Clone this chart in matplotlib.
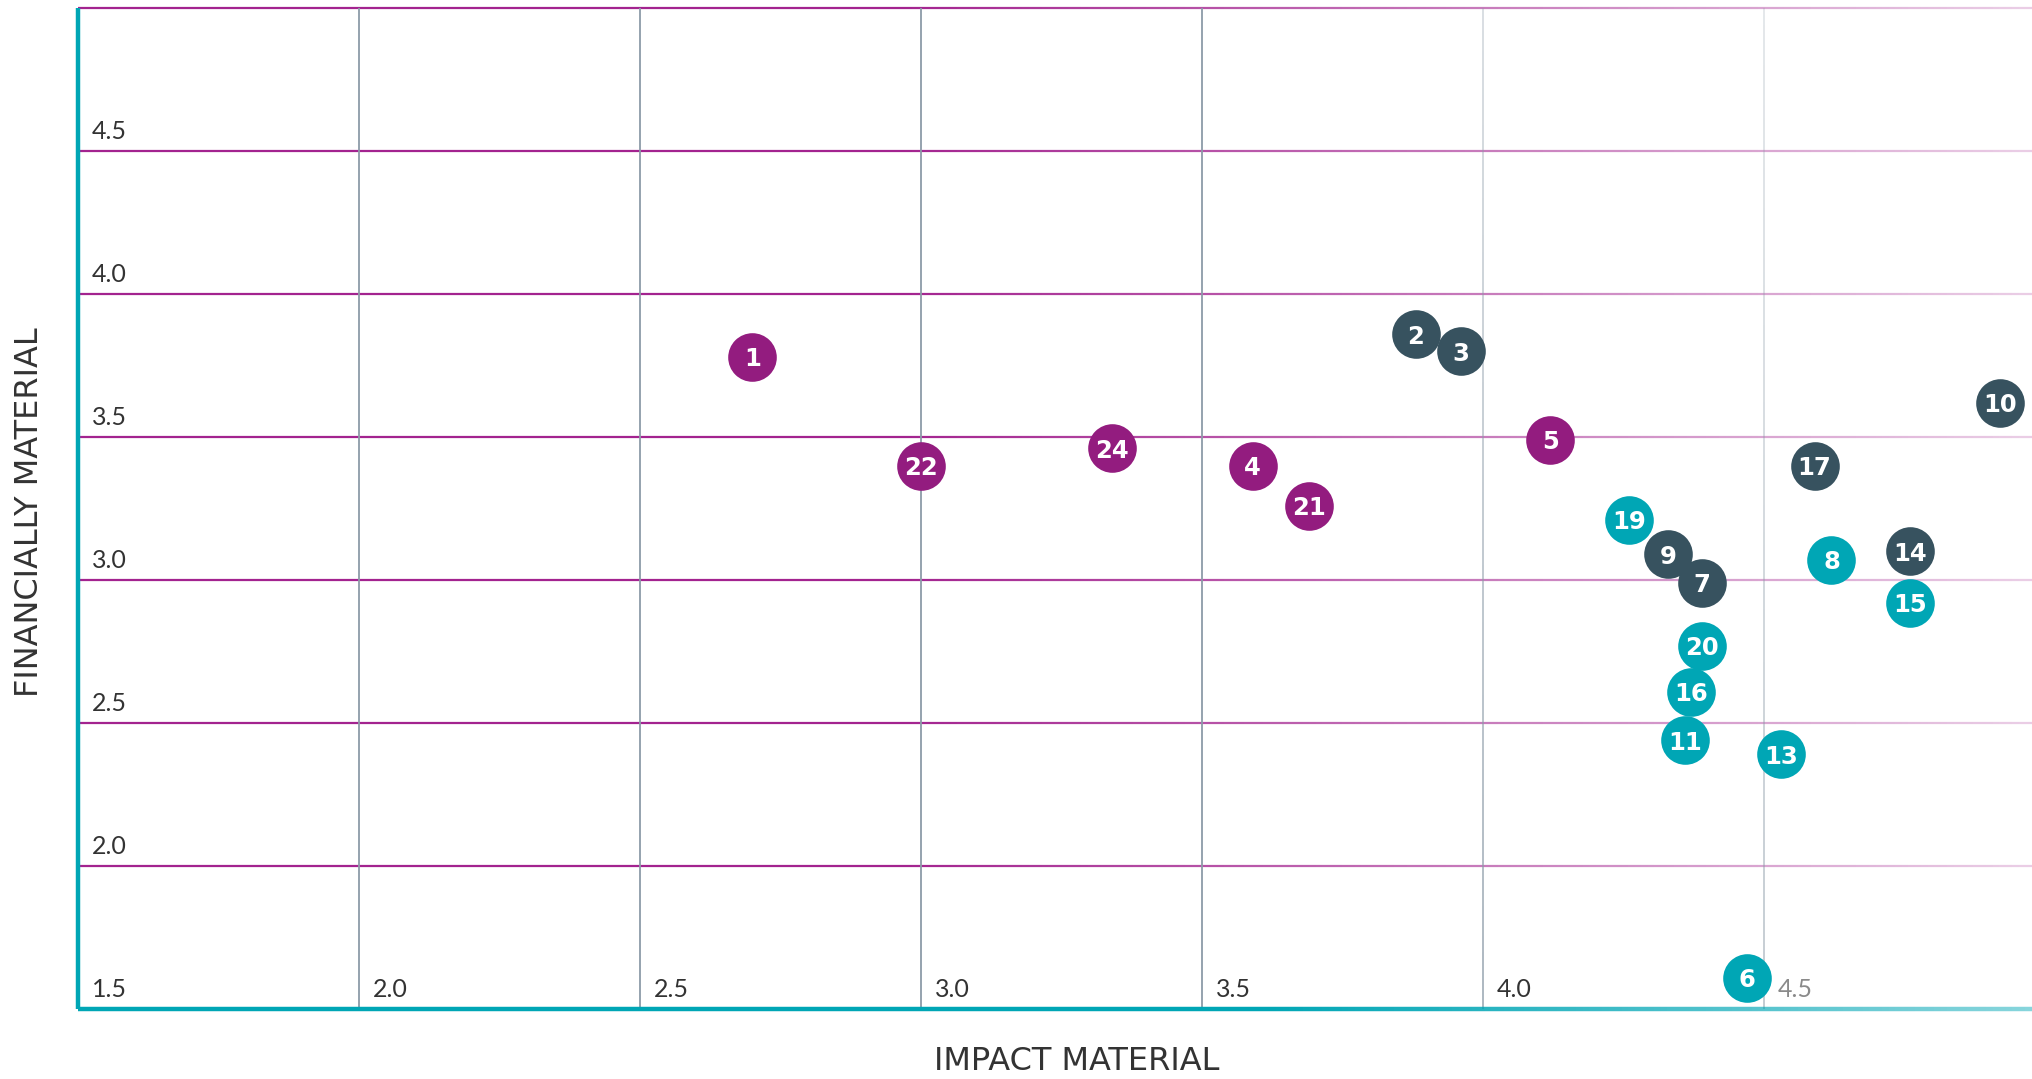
import numpy as np
import matplotlib
matplotlib.use("Agg")
import matplotlib.pyplot as plt
from matplotlib.collections import LineCollection
from matplotlib.transforms import offset_copy
from matplotlib.colors import to_rgba

# ---------------- data ----------------
purple_labels = ["1", "22", "24", "4", "21", "5"]
purple_x = [2.70, 3.00, 3.34, 3.59, 3.69, 4.12]
purple_y = [3.78, 3.40, 3.46, 3.40, 3.26, 3.49]

dark_labels = ["2", "3", "10", "17", "14", "9", "7"]
dark_x = [3.88, 3.96, 4.92, 4.59, 4.76, 4.33, 4.39]
dark_y = [3.86, 3.80, 3.62, 3.40, 3.10, 3.09, 2.99]

teal_labels = ["19", "8", "15", "11", "16", "20", "13", "6"]
teal_x = [4.26, 4.62, 4.76, 4.36, 4.37, 4.39, 4.53, 4.47]
teal_y = [3.21, 3.07, 2.92, 2.44, 2.61, 2.77, 2.39, 1.61]

x_ticks = [1.5, 2.0, 2.5, 3.0, 3.5, 4.0, 4.5]
x_tick_labels = ["1.5", "2.0", "2.5", "3.0", "3.5", "4.0", "4.5"]
y_ticks = [2.0, 2.5, 3.0, 3.5, 4.0, 4.5]
y_tick_labels = ["2.0", "2.5", "3.0", "3.5", "4.0", "4.5"]
h_grid = [2.0, 2.5, 3.0, 3.5, 4.0, 4.5, 5.0]
v_grid = [2.0, 2.5, 3.0, 3.5, 4.0, 4.5]

x_label = "IMPACT MATERIAL"
y_label = "FINANCIALLY MATERIAL"

PURPLE = "#931C7F"
DARK = "#37525F"
TEAL = "#00A6B5"
MAGENTA = "#A3238F"
GREY = "#8C9BA8"
TEXT = "#333333"

# ---------------- figure ----------------
W, H, DPI = 2032, 1079, 100
fig = plt.figure(figsize=(W / DPI, H / DPI), dpi=DPI)
ax = fig.add_axes([78 / W, (H - 1009) / H, 1 - 78 / W, (1009 - 8) / H])
XMIN, XMAX = 1.5, 1.5 + 1954 / 562
YMIN, YMAX = 1.5, 5.0
ax.set_xlim(XMIN, XMAX)
ax.set_ylim(YMIN, YMAX)
for s in ax.spines.values():
    s.set_visible(False)
ax.set_xticks([])
ax.set_yticks([])

N = 300

def h_alpha(x):
    px = 78 + (x - 1.5) * 562
    return np.clip(1 - (px - 900) / 1132 * 0.78, 0.18, 1.0)

# horizontal gridlines (magenta, fading to right)
segs, cols = [], []
base = np.array(to_rgba(MAGENTA))
for yv in h_grid:
    xs = np.linspace(XMIN, XMAX, N + 1)
    for i in range(N):
        segs.append([(xs[i], yv), (xs[i + 1], yv)])
        c = base.copy()
        c[3] = h_alpha(0.5 * (xs[i] + xs[i + 1]))
        cols.append(c)
ax.add_collection(LineCollection(segs, colors=cols, linewidths=1.6,
                                 clip_on=False, zorder=1))

# vertical gridlines (grey, fading to top-right)
segs, cols = [], []
gbase = np.array(to_rgba(GREY))
for xv in v_grid:
    fx = min(1.0, 1 - 0.45 * (xv - 3.5))
    ys = np.linspace(YMIN, YMAX, N + 1)
    for i in range(N):
        segs.append([(xv, ys[i]), (xv, ys[i + 1])])
        frac = (0.5 * (ys[i] + ys[i + 1]) - YMIN) / (YMAX - YMIN)
        fy = 1 - 0.55 * frac if xv > 3.6 else 1.0
        c = gbase.copy()
        c[3] = fx * fy
        cols.append(c)
ax.add_collection(LineCollection(segs, colors=cols, linewidths=1.3,
                                 clip_on=False, zorder=1))

# teal axis lines
ax.plot([XMIN, XMIN], [YMIN, YMAX], color=TEAL, lw=3.2,
        solid_capstyle="butt", clip_on=False, zorder=2)
segs, cols = [], []
tbase = np.array(to_rgba(TEAL))
xs = np.linspace(XMIN, XMAX, N + 1)
for i in range(N):
    segs.append([(xs[i], YMIN), (xs[i + 1], YMIN)])
    c = tbase.copy()
    c[3] = float(np.clip(h_alpha(0.5 * (xs[i] + xs[i + 1])) + 0.25, 0, 1))
    cols.append(c)
ax.add_collection(LineCollection(segs, colors=cols, linewidths=3.2,
                                 clip_on=False, zorder=2))

# tick labels inside the plot
tr = offset_copy(ax.transData, fig=fig, x=14, y=12, units="dots")
for v, lab in zip(x_ticks, x_tick_labels):
    col = "#8a8a8a" if v >= 4.5 else TEXT
    ax.text(v, YMIN, lab, transform=tr, fontsize=18, family="Lato",
            fontweight="normal", color=col, ha="left", va="baseline", zorder=3)
for v, lab in zip(y_ticks, y_tick_labels):
    ax.text(XMIN, v, lab, transform=tr, fontsize=18, family="Lato",
            fontweight="normal", color=TEXT, ha="left", va="baseline", zorder=3)

# markers
MS = 35
def draw(xv, yv, labels, color):
    for x, y, lab in zip(xv, yv, labels):
        ax.plot([x], [y], "o", ms=MS, color=color, mec="none",
                clip_on=False, zorder=5)
        ax.text(x, y, lab, color="white", fontsize=17.5, fontweight="bold",
                family="DejaVu Sans", ha="center", va="center_baseline",
                zorder=6, clip_on=False)

draw(purple_x, purple_y, purple_labels, PURPLE)
draw(dark_x, dark_y, dark_labels, DARK)
draw(teal_x, teal_y, teal_labels, TEAL)

# axis titles
fig.text(1077 / W, 1 - 1062 / H, x_label, fontsize=23, color=TEXT,
         family="DejaVu Sans", ha="center", va="center")
fig.text(30 / W, 1 - 512 / H, y_label, fontsize=23, color=TEXT,
         family="DejaVu Sans", ha="center", va="center", rotation=90)

fig.savefig("out.png", dpi=DPI, facecolor="white")
